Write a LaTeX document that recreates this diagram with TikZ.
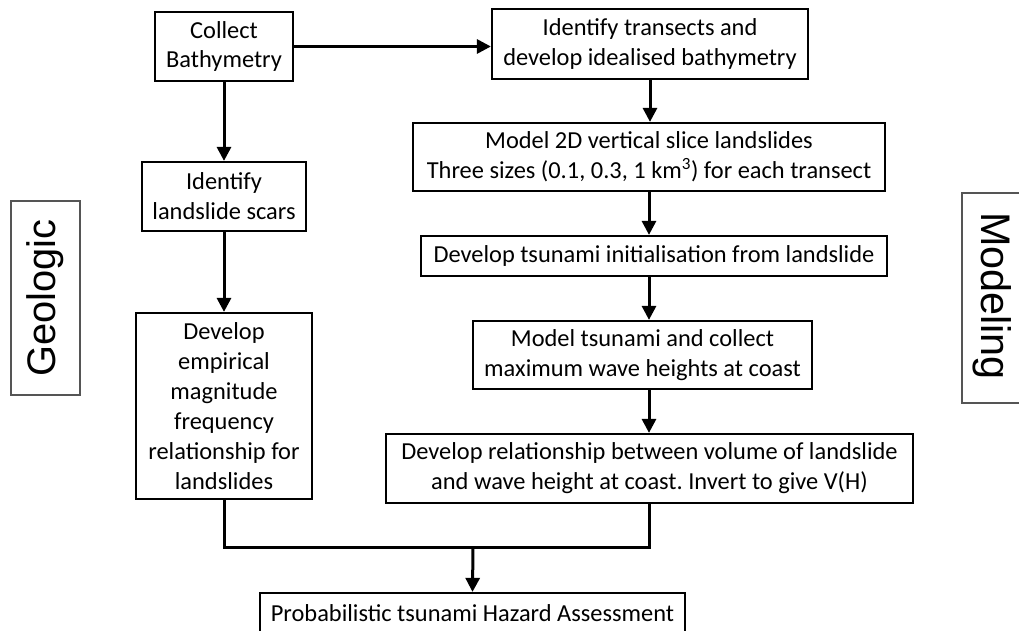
\documentclass[tikz,border=0pt]{standalone}
\usepackage{fontspec}
\setmainfont{Carlito}
\newfontfamily\sidefont{Liberation Sans}
\usetikzlibrary{arrows.meta}
\definecolor{sidegray}{HTML}{555555}
\frenchspacing
\tikzset{
  box/.style={draw=black, line width=2.2bp, align=center, inner sep=0pt,
    font=\fontsize{24.5}{30}\selectfont},
  sidebox/.style={draw=sidegray, line width=1.3bp, inner sep=0pt},
  sidetext/.style={inner sep=0pt, font=\sidefont\fontsize{40}{42}\selectfont},
  conn/.style={line width=3bp, draw=black},
  arr/.style={conn, -{Triangle[width=14bp,length=14bp]}}
}
\begin{document}
\begin{tikzpicture}[x=1bp, y=-1bp]
\useasboundingbox (0,0) rectangle (1019,631);
\node[box, minimum width=138bp, minimum height=69bp] (bath) at (224,46.5) {Collect\\Bathymetry};
\node[box, minimum width=316bp, minimum height=70bp] (trans) at (650,44) {Identify transects and\\develop idealised bathymetry};
\node[box, minimum width=472bp, minimum height=68bp] (m2d) at (649,157) {Model 2D vertical slice landslides\\Three sizes (0.1, 0.3, 1 km\textsuperscript{3}) for each transect};
\node[box, minimum width=466bp, minimum height=40bp] (init) at (654,256) {Develop tsunami initialisation from landslide};
\node[box, minimum width=339bp, minimum height=68bp] (mtsu) at (642.5,355) {Model tsunami and collect\\maximum wave heights at coast};
\node[box, minimum width=527bp, minimum height=69bp] (rel) at (649.5,468.5) {Develop relationship between volume of landslide\\and wave height at coast. Invert to give V(H)};
\node[box, minimum width=164bp, minimum height=69bp] (scars) at (224,196.5) {Identify\\landslide scars};
\node[box, minimum width=176bp, minimum height=186bp] (emp) at (224,406) {Develop\\empirical\\magnitude\\frequency\\relationship for\\landslides};
\node[box, minimum width=425bp, minimum height=40bp] (pta) at (472.5,613) {Probabilistic tsunami Hazard Assessment};
\node[sidebox, minimum width=69bp, minimum height=194bp] (geobox) at (45.5,298) {};
\node[sidetext, rotate=90] (geo) at (45,298) {Geologic};
\node[sidebox, minimum width=68bp, minimum height=210bp] (modbox) at (996,298) {};
\node[sidetext, rotate=-90, font=\sidefont\fontsize{41.5}{43}\selectfont] (mod) at (992,296) {Modeling};
\coordinate (jn) at (473,547);
\draw[arr] (bath.east) -- (bath.east -| trans.west);
\draw[arr] (bath.south) -- (scars.north);
\draw[arr] (scars.south) -- (emp.north);
\draw[arr] (trans.south) -- (trans.south |- m2d.north);
\draw[arr] (m2d.south) -- (m2d.south |- init.north);
\draw[arr] (m2d.south |- init.south) -- (m2d.south |- mtsu.north);
\draw[arr] (m2d.south |- mtsu.south) -- (m2d.south |- rel.north);
\draw[conn] (emp.south) |- (jn) -| (m2d.south |- rel.south);
\draw[arr] (jn) -- (pta.north);
\end{tikzpicture}
\end{document}
